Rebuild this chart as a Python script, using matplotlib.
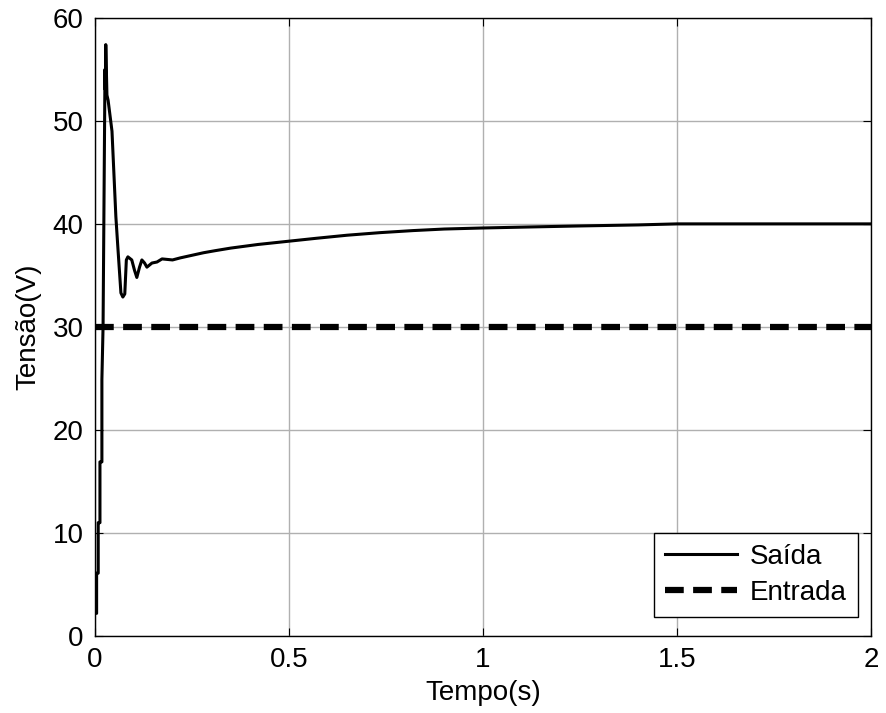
import numpy as np
import matplotlib.pyplot as plt

plt.rcParams['font.family'] = ['Liberation Sans', 'DejaVu Sans']

# output voltage
t_saida = [0.0, 0.0044, 0.0044, 0.0085, 0.0085, 0.013, 0.013, 0.018, 0.018, 0.021, 0.023, 0.025,
           0.026, 0.027, 0.028, 0.031, 0.034, 0.044, 0.054, 0.059, 0.067, 0.072, 0.077, 0.081,
           0.085, 0.095, 0.102, 0.108, 0.115, 0.121, 0.128, 0.134, 0.147, 0.16, 0.173, 0.2,
           0.22, 0.25, 0.28, 0.31, 0.35, 0.42, 0.495, 0.57, 0.65, 0.735, 0.82, 0.9, 0.997,
           1.12, 1.25, 1.4, 1.5, 1.7, 2.0]
v_saida = [2.2, 2.2, 6.1, 6.1, 11.0, 11.0, 16.9, 16.9, 24.9, 30.0, 40.0, 50.0,
           55.0, 53.0, 57.4, 52.5, 52.0, 49.0, 40.7, 37.8, 33.3, 32.9, 33.2, 36.5,
           36.8, 36.5, 35.5, 34.8, 35.8, 36.5, 36.2, 35.8, 36.2, 36.3, 36.6, 36.5,
           36.7, 36.95, 37.2, 37.4, 37.65, 38.0, 38.3, 38.6, 38.9, 39.15, 39.35, 39.5, 39.6,
           39.7, 39.8, 39.9, 40.0, 40.0, 40.0]

t_entrada = [0.0, 2.0]
v_entrada = [30.0, 30.0]

fig = plt.figure(figsize=(8.87, 7.13), dpi=100)
ax = fig.add_axes([0.107, 0.108, 0.875, 0.867])

ax.plot(t_saida, v_saida, color='black', lw=2.2, label='Saída')
ax.plot(t_entrada, v_entrada, color='black', lw=4.5, ls=(0, (3, 1.5)), label='Entrada')

ax.set_xlim(0, 2)
ax.set_ylim(0, 60)
ax.set_xticks([0, 0.5, 1, 1.5, 2])
ax.set_xticklabels(['0', '0.5', '1', '1.5', '2'])
ax.set_yticks(np.arange(0, 61, 10))
ax.grid(True, color='#b0b0b0', lw=1)
ax.tick_params(direction='in', top=True, right=True, labelsize=20, length=6, pad=8)
for s in ax.spines.values():
    s.set_linewidth(1)
ax.set_xlabel('Tempo(s)', fontsize=20, labelpad=5)
ax.set_ylabel('Tensão(V)', fontsize=20, labelpad=8)

leg = ax.legend(loc='lower right', bbox_to_anchor=(0.983, 0.031), fontsize=20,
                fancybox=False, edgecolor='black', framealpha=1, handlelength=2.6,
                handletextpad=0.45, borderpad=0.4, labelspacing=0.35, borderaxespad=0)
leg.get_frame().set_linewidth(1)

fig.savefig('out.png', dpi=100)
